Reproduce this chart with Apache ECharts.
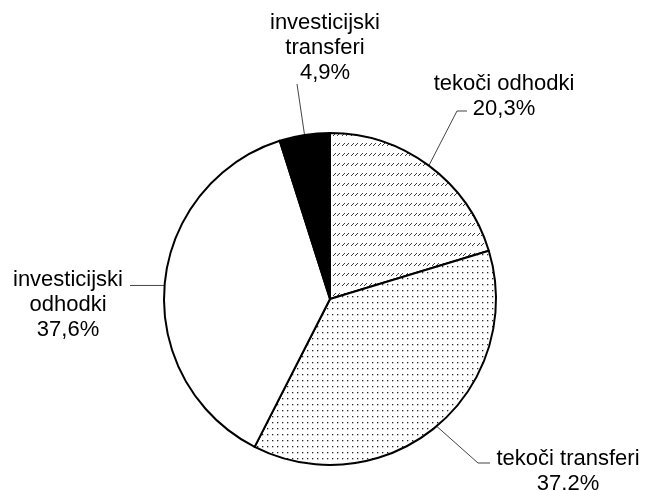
<!DOCTYPE html>
<html>
<head>
<meta charset="utf-8">
<script src="https://cdn.jsdelivr.net/npm/echarts@6/dist/echarts.min.js"></script>
<style>
html, body { margin: 0; padding: 0; background: #fff; }
#chart { width: 646px; height: 490px; }
</style>
</head>
<body>
<div id="chart"></div>
<script>
// podatki
var categories = ['tekoči odhodki', 'tekoči transferi', 'investicijski\nodhodki', 'investicijski\ntransferi'];
var shares = [20.3, 37.2, 37.6, 4.9];
var shareLabels = ['20,3%', '37.2%', '37,6%', '4,9%'];

var cx = 330, cy = 299, R = 166;

// vzorci polnila
function hatchTile () {
  var c = document.createElement('canvas')
  c.width = 9; c.height = 10
  var g = c.getContext('2d')
  g.fillStyle = '#fff'
  g.fillRect(0, 0, 9, 10)
  g.fillStyle = '#3a3a3a'
  ;[0, 4].forEach(function (x) {
    g.fillRect(x, 5, 1, 1)
    g.fillRect(x + 1, 4, 1, 1)
    g.fillRect(x + 2, 3, 1, 1)
  })
  return c
}
function dotTile () {
  var c = document.createElement('canvas')
  c.width = 5; c.height = 6
  var g = c.getContext('2d')
  g.fillStyle = '#fff'
  g.fillRect(0, 0, 5, 6)
  g.fillStyle = '#222'
  g.fillRect(2, 2, 1.3, 1.3)
  return c
}

var fills = [
  { image: hatchTile(), repeat: 'repeat' },
  { image: dotTile(), repeat: 'repeat' },
  '#ffffff',
  '#000000'
];

// polozaji oznak (sredina besedila) in zlom crte relativno na oznako
var spots = [
  { x: 504, y: 96, knee: [-47, 15], end: [-37, 15] },
  { x: 568, y: 471, knee: [-90, -8], end: [-78, -8] },
  { x: 68, y: 305, knee: null, end: [62, null] },
  { x: 325, y: 48, knee: null, end: [-28, 36] }
];

var data = [];
for (var i = 0; i < categories.length; i++) {
  data.push({
    name: categories[i],
    value: shares[i],
    itemStyle: { color: fills[i] }
  });
}

var chart = echarts.init(document.getElementById('chart'));
chart.setOption({
  animation: false,
  backgroundColor: '#fff',
  series: [{
    type: 'pie',
    center: [cx, cy],
    radius: R,
    startAngle: 90,
    clockwise: true,
    avoidLabelOverlap: false,
    data: data,
    itemStyle: { borderColor: '#000', borderWidth: 2 },
    emphasis: { disabled: true },
    label: {
      show: true,
      position: 'outside',
      color: '#000',
      fontFamily: 'Liberation Sans, Arial, sans-serif',
      fontSize: 22,
      lineHeight: 25,
      align: 'center',
      formatter: function (p) {
        return categories[p.dataIndex] + '\n' + shareLabels[p.dataIndex];
      }
    },
    labelLine: {
      show: true,
      lineStyle: { color: '#444', width: 1 }
    },
    labelLayout: function (params) {
      var s = spots[params.dataIndex];
      var p0 = params.labelLinePoints ? params.labelLinePoints[0] : [cx, cy];
      var pts = [p0];
      if (s.knee) pts.push([s.x + s.knee[0], s.y + s.knee[1]]);
      pts.push([s.x + s.end[0], s.end[1] == null ? p0[1] : s.y + s.end[1]]);
      return {
        x: s.x,
        y: s.y,
        align: 'center',
        verticalAlign: 'middle',
        labelLinePoints: pts
      };
    }
  }]
});
</script>
</body>
</html>
